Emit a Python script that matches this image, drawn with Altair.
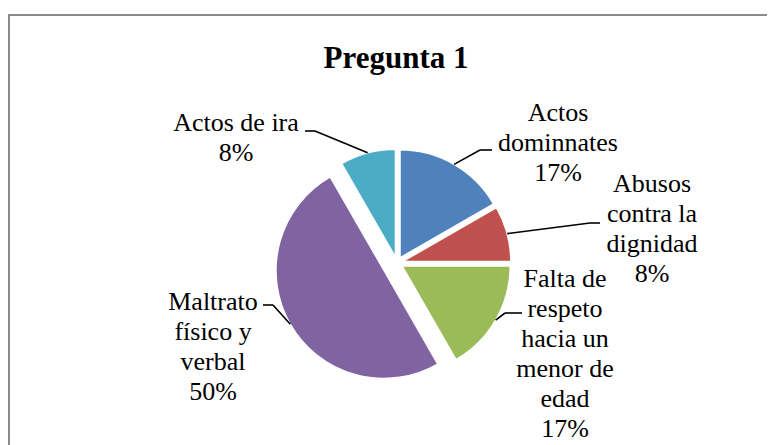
import altair as alt
import pandas as pd

# ---- data ----
categories = ["Actos dominnates", "Abusos contra la dignidad",
              "Falta de respeto hacia un menor de edad",
              "Maltrato físico y verbal", "Actos de ira"]
percent = [16.7, 8.3, 16.7, 50.0, 8.3]
wrapped = [["Actos", "dominnates"],
           ["Abusos", "contra la", "dignidad"],
           ["Falta de", "respeto", "hacia un", "menor de", "edad"],
           ["Maltrato", "físico  y", "verbal"],
           ["Actos de ira"]]
title_text = "Pregunta 1"

# ---- styles / layout ----
colors = ["#4F81BD", "#C0504D", "#9BBB59", "#8064A2", "#4BACC6"]
W, H = 759, 437
CX, CY, R = 389, 255, 108
EXPLODE, EXPLODE_MAX = 6, 15
FONT = "Liberation Serif"

layout = {  # label anchor (first baseline) and leader-line pieces, view pixels
    "label_x": [550, 644, 557, 205, 228],
    "label_y": [113, 184, 279, 302, 123],
    "lead_x1": [472, 582, 497, 255, 297],
    "lead_x2": [484, 592, 514, 265, 307],
    "lead_y":  [142, 215, 305, 297, 123],
    "elbow_x": [472, 582, 497, 265, 307],
}

df = pd.DataFrame({
    "cat": categories,
    "pct": percent,
    "order": list(range(len(categories))),
    "text": ["\n".join(w + [f"{round(p)}%"]) for w, p in zip(wrapped, percent)],
    **layout,
})

base = (
    alt.Chart(df)
    .transform_joinaggregate(total="sum(pct)", top="max(pct)")
    .transform_window(cum="sum(pct)", sort=[alt.SortField("order")], frame=[None, 0])
    .transform_calculate(t0="2*PI*(datum.cum-datum.pct)/datum.total",
                         t1="2*PI*datum.cum/datum.total")
    .transform_calculate(mid="(datum.t0+datum.t1)/2",
                         ex=f"datum.pct==datum.top ? {EXPLODE_MAX} : {EXPLODE}")
    .transform_calculate(cx=f"{CX}+datum.ex*sin(datum.mid)",
                         cy=f"{CY}-datum.ex*cos(datum.mid)")
    .transform_calculate(sx=f"datum.cx+{R}*sin(datum.mid)",
                         sy=f"datum.cy-{R}*cos(datum.mid)")
)

pie = base.mark_arc(outerRadius=R, stroke="white", strokeWidth=1.5).encode(
    x=alt.X("cx:Q", scale=None, axis=None),
    y=alt.Y("cy:Q", scale=None, axis=None),
    theta=alt.Theta("t0:Q", scale=None, stack=None),
    theta2="t1:Q",
    color=alt.Color("cat:N", scale=alt.Scale(domain=categories, range=colors), legend=None),
)

lead1 = base.mark_rule(color="black", strokeWidth=1.6).encode(
    x=alt.X("lead_x1:Q", scale=None, axis=None), x2="lead_x2:Q",
    y=alt.Y("lead_y:Q", scale=None, axis=None), y2="lead_y:Q",
)
lead2 = base.mark_rule(color="black", strokeWidth=1.6).encode(
    x=alt.X("elbow_x:Q", scale=None, axis=None), x2="sx:Q",
    y=alt.Y("lead_y:Q", scale=None, axis=None), y2="sy:Q",
)

labels = base.mark_text(font=FONT, fontSize=26, lineHeight=30, align="center",
                        baseline="alphabetic", lineBreak="\n", color="black").encode(
    x=alt.X("label_x:Q", scale=None, axis=None),
    y=alt.Y("label_y:Q", scale=None, axis=None),
    text="text:N",
)

title = alt.Chart(pd.DataFrame({"t": [title_text]})).mark_text(
    font=FONT, fontSize=31, fontWeight="bold", align="center", baseline="alphabetic",
    color="black").encode(x=alt.value(388), y=alt.value(60), text="t:N")

frame_top = alt.Chart(pd.DataFrame({"a": [0]})).mark_rule(color="#8a8a8a", strokeWidth=2).encode(
    x=alt.value(0), x2=alt.value(W), y=alt.value(7))
frame_left = alt.Chart(pd.DataFrame({"a": [0]})).mark_rule(color="#8a8a8a", strokeWidth=2).encode(
    x=alt.value(1), y=alt.value(6), y2=alt.value(H))

chart = (
    alt.layer(frame_top, frame_left, pie, lead1, lead2, labels, title)
    .properties(width=W, height=H, padding=0,
                autosize=alt.AutoSizeParams(type="none"), background="white")
    .configure_view(stroke=None)
)

chart.save("out.html", embed_options={"renderer": "svg", "actions": False})
